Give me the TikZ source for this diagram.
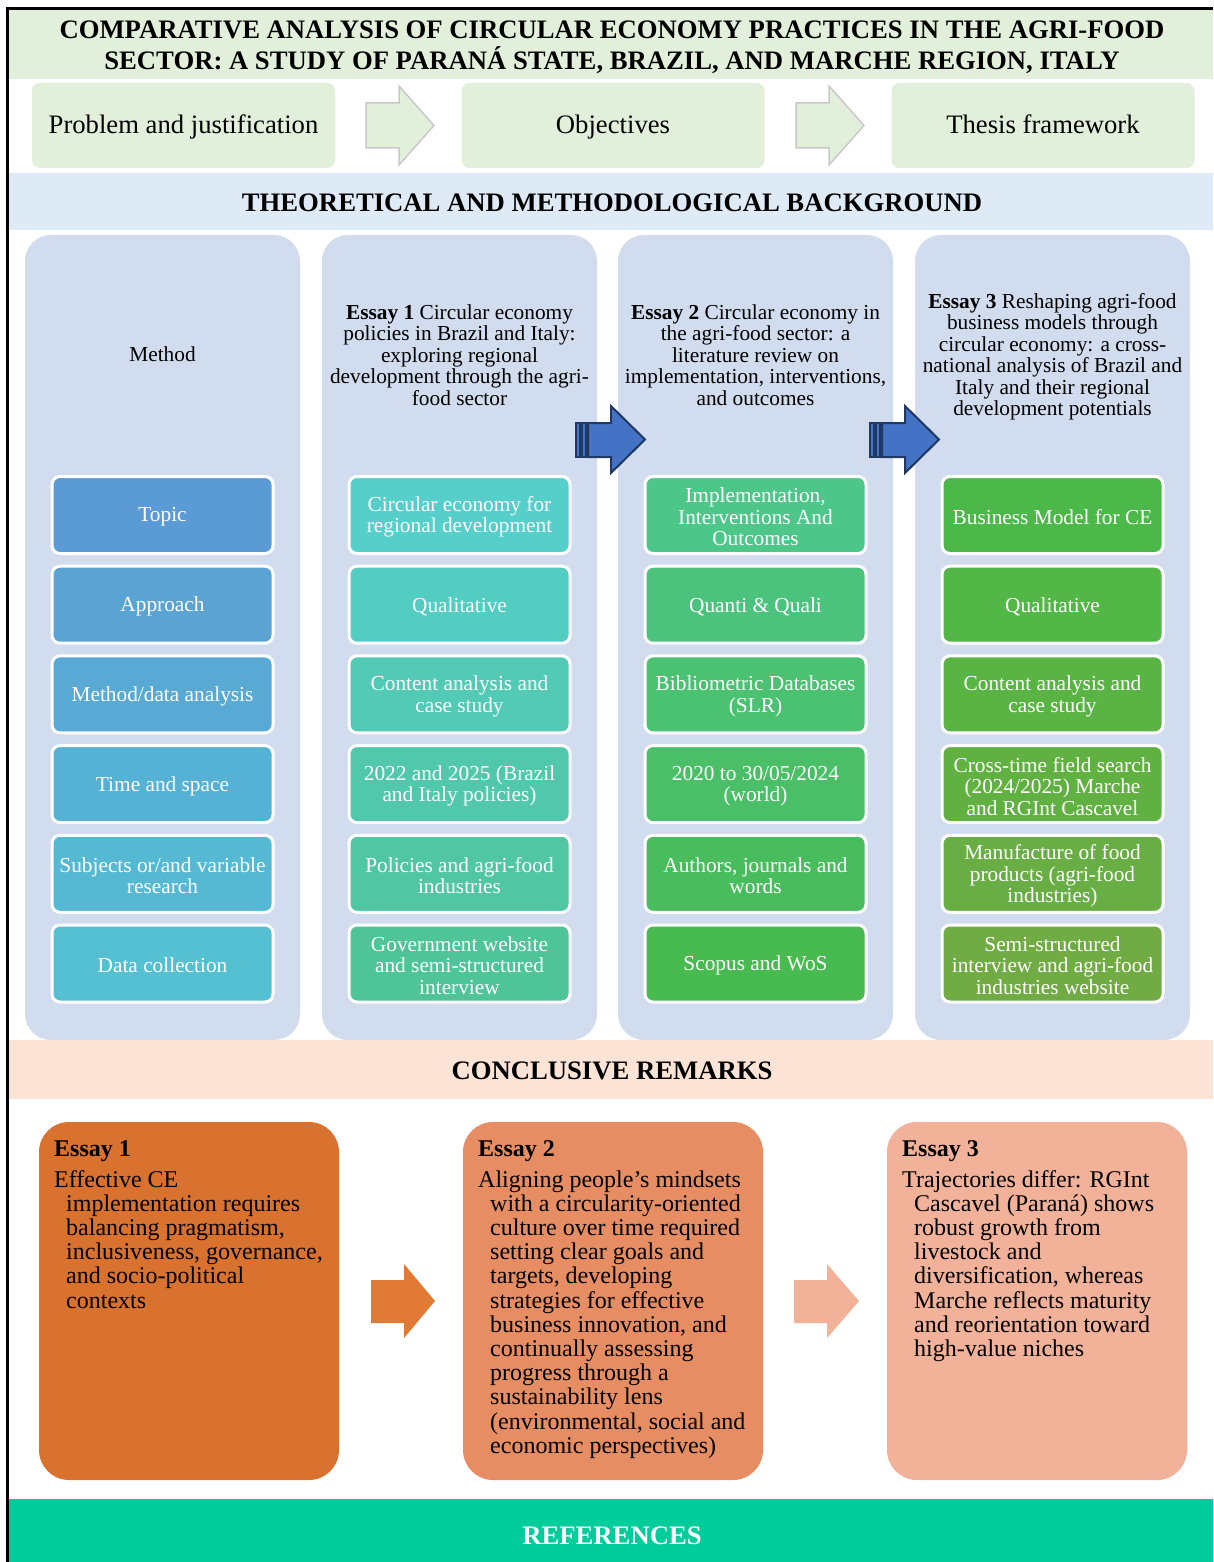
\documentclass[tikz,border=0pt]{standalone}
\usepackage{fontspec}
\setmainfont{Liberation Serif}

% palette
\definecolor{titlegreen}{HTML}{E2EFDA}
\definecolor{theoblue}{HTML}{DEEAF6}
\definecolor{panelblue}{HTML}{D1DCEE}
\definecolor{peach}{HTML}{FBE3D6}
\definecolor{refgreen}{HTML}{00CC9C}
\definecolor{arrowgray}{HTML}{C9C9C9}
\definecolor{arrowblue}{HTML}{4472C4}
\definecolor{arrownavy}{HTML}{1F3864}
% method column
\definecolor{ca1}{HTML}{5B9BD5}
\definecolor{ca2}{HTML}{5BA3D3}
\definecolor{ca3}{HTML}{58AAD4}
\definecolor{ca4}{HTML}{56B2D5}
\definecolor{ca5}{HTML}{55B9D4}
\definecolor{ca6}{HTML}{54C0D2}
% essay 1 column
\definecolor{cb1}{HTML}{56CFCB}
\definecolor{cb2}{HTML}{53CCC2}
\definecolor{cb3}{HTML}{52CAB6}
\definecolor{cb4}{HTML}{51C8AC}
\definecolor{cb5}{HTML}{50C6A2}
\definecolor{cb6}{HTML}{4EC498}
% essay 2 column
\definecolor{cc1}{HTML}{4DC68A}
\definecolor{cc2}{HTML}{4CC37D}
\definecolor{cc3}{HTML}{4BC172}
\definecolor{cc4}{HTML}{4ABF67}
\definecolor{cc5}{HTML}{49BD5D}
\definecolor{cc6}{HTML}{47BB50}
% essay 3 column
\definecolor{cd1}{HTML}{4CB849}
\definecolor{cd2}{HTML}{52B746}
\definecolor{cd3}{HTML}{59B444}
\definecolor{cd4}{HTML}{60B142}
\definecolor{cd5}{HTML}{68AE45}
\definecolor{cd6}{HTML}{70AB43}
% conclusions
\definecolor{essayA}{HTML}{D9712F}
\definecolor{essayB}{HTML}{E68D63}
\definecolor{essayC}{HTML}{F2B199}
\definecolor{orangeA}{HTML}{E07A34}

\newcommand\fTitle{\fontsize{26.67}{31}\selectfont\bfseries}
\newcommand\fTop{\fontsize{26.67}{31}\selectfont}
\newcommand\fCell{\fontsize{21.33}{21.5}\selectfont}
\newcommand\fBody{\fontsize{24}{24.2}\selectfont}

\tikzset{
  band/.style={fill=#1, inner sep=0pt, minimum width=1204pt},
  bandtext/.style={inner sep=0pt, align=center, font=\fTitle},
  topbox/.style={fill=titlegreen, rounded corners=8pt, minimum width=303pt,
    minimum height=85pt, inner sep=0pt},
  toptext/.style={inner sep=0pt, font=\fTop},
  toparrow/.style={fill=titlegreen, draw=arrowgray, line width=1.5pt, line join=miter},
  panel/.style={fill=panelblue, rounded corners=26pt, minimum width=275pt,
    minimum height=805pt, inner sep=0pt},
  head/.style={align=center, font=\fCell, inner sep=0pt},
  cell/.style={fill=#1, draw=white, line width=3pt, rounded corners=8pt,
    minimum width=221pt, minimum height=77pt, inner sep=0pt, align=center,
    text=white, font=\fCell},
  celltext/.style={align=center, text=white, font=\fCell, inner sep=0pt},
  bluearrow/.style={fill=arrowblue, draw=arrownavy, line width=2pt, line join=miter},
  essaybox/.style={fill=#1, rounded corners=30pt, minimum width=300pt,
    minimum height=358pt, inner sep=0pt},
  essaytext/.style={anchor=base west, inner sep=0pt, font=\fBody},
}

\begin{document}
\begin{tikzpicture}[x=1pt,y=-1pt]
\useasboundingbox (0,0) rectangle (1213,1562);
\fill[white] (0,0) rectangle (1213,1562);

% ---- title and headline bands
\node[band=titlegreen, minimum height=69pt] (title) at (611,44.5) {};
\node[bandtext] (titletext) at (612,47)
  {COMPARATIVE ANALYSIS OF CIRCULAR ECONOMY PRACTICES IN THE AGRI-FOOD\\
   SECTOR: A STUDY OF PARAN\'A STATE, BRAZIL, AND MARCHE REGION, ITALY};

\node[topbox] (prob) at (183.5,125.5) {};
\node[topbox] (obj)  at (613,125.5)   {};
\node[topbox] (frame) at (1043,125.5) {};
\node[toptext, anchor=base] (probtext) at (183.5,134) {Problem and justification};
\node[toptext, anchor=base] (objtext)  at (613,134)   {Objectives};
\node[toptext, anchor=base] (frametext) at (1043,134) {Thesis framework};

\draw[toparrow] (366,103) -- (399,103) -- (399,86) -- (434,125.5)
  -- (399,165) -- (399,148) -- (366,148) -- cycle;
\draw[toparrow] (796,103) -- (829,103) -- (829,86) -- (864,125.5)
  -- (829,165) -- (829,148) -- (796,148) -- cycle;

\node[band=theoblue, minimum height=57pt] (theo) at (611,201.5) {};
\node[bandtext, anchor=base] (theotext) at (612,212)
  {THEORETICAL AND METHODOLOGICAL BACKGROUND};

% ---- four columns
\node[panel] (p1) at (162.5,637.5) {};
\node[panel] (p2) at (459.5,637.5) {};
\node[panel] (p3) at (755.5,637.5) {};
\node[panel] (p4) at (1052.5,637.5) {};

\node[head] (h1) at (162.5,354) {Method};
\node[head] (h2) at (459.5,355)
  {\textbf{Essay 1} Circular economy\\policies in Brazil and Italy:\\exploring regional\\
   development through the agri-\\food sector};
\node[head] (h3) at (755.5,355)
  {\textbf{Essay 2} Circular economy in\\the agri-food sector: a\\literature review on\\
   implementation, interventions,\\and outcomes};
\node[head] (h4) at (1052.5,357)
  {\textbf{Essay 3} Reshaping agri-food\\business models through\\circular economy: a cross-\\
   national analysis of Brazil and\\Italy and their regional\\development potentials};

% cell boxes: fill shape, then text slightly lowered to sit on the optical centre
\tikzset{cellyshift/.style={yshift=-2pt}}

% method column
\node[cell=ca1] (a1) at (162.5,515)   {};
\node[cell=ca2] (a2) at (162.5,604.7) {};
\node[cell=ca3] (a3) at (162.5,694.4) {};
\node[cell=ca4] (a4) at (162.5,784.1) {};
\node[cell=ca5] (a5) at (162.5,873.8) {};
\node[cell=ca6] (a6) at (162.5,963.5) {};
\node[celltext, cellyshift] at (a1) {Topic};
\node[celltext, cellyshift] at (a2) {Approach};
\node[celltext, cellyshift] at (a3) {Method/data analysis};
\node[celltext, cellyshift] at (a4) {Time and space};
\node[celltext, cellyshift] at (a5) {Subjects or/and variable\\research};
\node[celltext, cellyshift] at (a6) {Data collection};

% essay 1 column
\node[cell=cb1] (b1) at (459.5,515)   {};
\node[cell=cb2] (b2) at (459.5,604.7) {};
\node[cell=cb3] (b3) at (459.5,694.4) {};
\node[cell=cb4] (b4) at (459.5,784.1) {};
\node[cell=cb5] (b5) at (459.5,873.8) {};
\node[cell=cb6] (b6) at (459.5,963.5) {};
\node[celltext, cellyshift] at (b1) {Circular economy for\\regional development};
\node[celltext, cellyshift] at (b2) {Qualitative};
\node[celltext, cellyshift] at (b3) {Content analysis and\\case study};
\node[celltext, cellyshift] at (b4) {2022 and 2025 (Brazil\\and Italy policies)};
\node[celltext, cellyshift] at (b5) {Policies and agri-food\\industries};
\node[celltext, cellyshift] at (b6) {Government website\\and semi-structured\\interview};

% essay 2 column
\node[cell=cc1] (c1) at (755.5,515)   {};
\node[cell=cc2] (c2) at (755.5,604.7) {};
\node[cell=cc3] (c3) at (755.5,694.4) {};
\node[cell=cc4] (c4) at (755.5,784.1) {};
\node[cell=cc5] (c5) at (755.5,873.8) {};
\node[cell=cc6] (c6) at (755.5,963.5) {};
\node[celltext, cellyshift] at (c1) {Implementation,\\Interventions And\\Outcomes};
\node[celltext, cellyshift] at (c2) {Quanti \& Quali};
\node[celltext, cellyshift] at (c3) {Bibliometric Databases\\(SLR)};
\node[celltext, cellyshift] at (c4) {2020 to 30/05/2024\\(world)};
\node[celltext, cellyshift] at (c5) {Authors, journals and\\words};
\node[celltext, cellyshift] at (c6) {Scopus and WoS};

% essay 3 column
\node[cell=cd1] (d1) at (1052.5,515)   {};
\node[cell=cd2] (d2) at (1052.5,604.7) {};
\node[cell=cd3] (d3) at (1052.5,694.4) {};
\node[cell=cd4] (d4) at (1052.5,784.1) {};
\node[cell=cd5] (d5) at (1052.5,873.8) {};
\node[cell=cd6] (d6) at (1052.5,963.5) {};
\node[celltext, cellyshift] at (d1) {Business Model for CE};
\node[celltext, cellyshift] at (d2) {Qualitative};
\node[celltext, cellyshift] at (d3) {Content analysis and\\case study};
\node[celltext, cellyshift] at (d4) {Cross-time field search\\(2024/2025) Marche\\and RGInt Cascavel};
\node[celltext, cellyshift] at (d5) {Manufacture of food\\products (agri-food\\industries)};
\node[celltext, cellyshift] at (d6) {Semi-structured\\interview and agri-food\\industries website};

% striped arrows between the essays
\draw[bluearrow] (576,423) rectangle (580,457);
\draw[bluearrow] (582,423) rectangle (586,457);
\draw[bluearrow] (588,423) -- (611,423) -- (611,406) -- (645,439.5)
  -- (611,473) -- (611,457) -- (588,457) -- cycle;
\draw[bluearrow] (870,423) rectangle (874,457);
\draw[bluearrow] (876,423) rectangle (880,457);
\draw[bluearrow] (882,423) -- (905,423) -- (905,406) -- (939,439.5)
  -- (905,473) -- (905,457) -- (882,457) -- cycle;

% ---- conclusions
\node[band=peach, minimum height=59pt] (concl) at (611,1069.5) {};
\node[bandtext, anchor=base] (concltext) at (612,1079) {CONCLUSIVE REMARKS};

\node[essaybox=essayA] (e1) at (189,1301) {};
\node[essaybox=essayB] (e2) at (613,1301) {};
\node[essaybox=essayC] (e3) at (1037,1301) {};

\fill[orangeA] (371,1280) -- (404,1280) -- (404,1264) -- (435,1301)
  -- (404,1338) -- (404,1323) -- (371,1323) -- cycle;
\fill[essayC] (794,1280) -- (827,1280) -- (827,1264) -- (859,1301)
  -- (827,1338) -- (827,1323) -- (794,1323) -- cycle;

\node[essaytext] (t1) at (54,1156) {\begin{tabular}[t]{@{}l@{}}
  \textbf{Essay 1}\\[6.8pt]
  Effective CE\\
  \hspace*{12pt}implementation requires\\
  \hspace*{12pt}balancing pragmatism,\\
  \hspace*{12pt}inclusiveness, governance,\\
  \hspace*{12pt}and socio-political\\
  \hspace*{12pt}contexts
\end{tabular}};

\node[essaytext] (t2) at (478,1156) {\begin{tabular}[t]{@{}l@{}}
  \textbf{Essay 2}\\[6.8pt]
  Aligning people's mindsets\\
  \hspace*{12pt}with a circularity-oriented\\
  \hspace*{12pt}culture over time required\\
  \hspace*{12pt}setting clear goals and\\
  \hspace*{12pt}targets, developing\\
  \hspace*{12pt}strategies for effective\\
  \hspace*{12pt}business innovation, and\\
  \hspace*{12pt}continually assessing\\
  \hspace*{12pt}progress through a\\
  \hspace*{12pt}sustainability lens\\
  \hspace*{12pt}(environmental, social and\\
  \hspace*{12pt}economic perspectives)
\end{tabular}};

\node[essaytext] (t3) at (902,1156) {\begin{tabular}[t]{@{}l@{}}
  \textbf{Essay 3}\\[6.8pt]
  Trajectories differ: RGInt\\
  \hspace*{12pt}Cascavel (Paran\'a) shows\\
  \hspace*{12pt}robust growth from\\
  \hspace*{12pt}livestock and\\
  \hspace*{12pt}diversification, whereas\\
  \hspace*{12pt}Marche reflects maturity\\
  \hspace*{12pt}and reorientation toward\\
  \hspace*{12pt}high-value niches
\end{tabular}};

% ---- references band
\node[band=refgreen, minimum height=63pt] (refs) at (611,1530.5) {};
\node[bandtext, text=white, anchor=base] (reftext) at (612,1544) {REFERENCES};

% outer frame
\draw[line width=2.5pt] (7.5,1562) -- (7.5,8.5) -- (1213,8.5);
\end{tikzpicture}
\end{document}
